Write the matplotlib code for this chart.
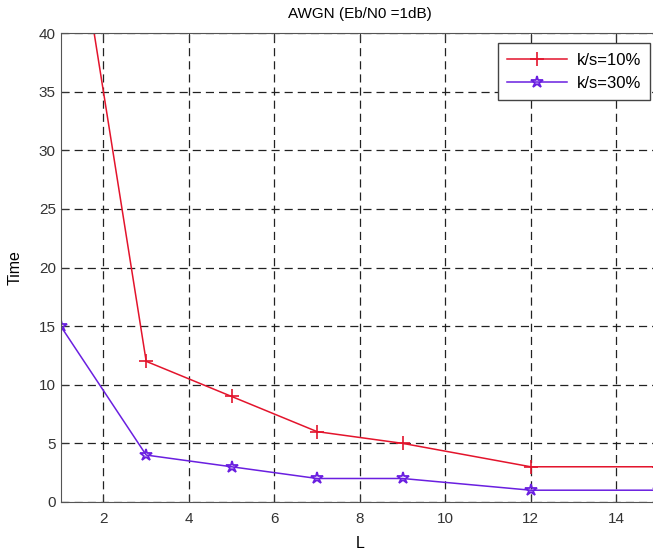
import matplotlib
matplotlib.use('Agg')
from matplotlib import pyplot as plt

plt.rcParams['font.family'] = ['Liberation Sans', 'DejaVu Sans']

L = [1, 3, 5, 7, 9, 12, 15]
time_10 = [58, 12, 9, 6, 5, 3, 3]
time_30 = [15, 4, 3, 2, 2, 1, 1]
xticks = [2, 4, 6, 8, 10, 12, 14]
yticks = [0, 5, 10, 15, 20, 25, 30, 35, 40]

fig = plt.figure(figsize=(6.53, 5.54), dpi=100)
ax = fig.add_axes([0.093, 0.094, 0.916, 0.846])

ax.plot(L, time_10, color='#e3142c', marker='+', ms=10, mew=1.2, lw=1.1, label='k/s=10%')
ax.plot(L, time_30, color='#6a1fe0', marker='*', ms=9, mfc='none', mew=1.3, lw=1.1, label='k/s=30%')

ax.set_xlim(1, 15)
ax.set_ylim(0, 40)
ax.set_xticks(xticks)
ax.set_yticks(yticks)
ax.tick_params(direction='in', length=5, labelsize=11, colors='#333333', top=True, right=True)
ax.tick_params(axis='x', pad=7)
ax.grid(True, color='#222222', linestyle=(0, (6.5, 4)), lw=0.9)
for s in ax.spines.values():
    s.set_color('#555555')

ax.set_xlabel('L', fontsize=11.5, labelpad=7.5)
ax.set_ylabel('Time', fontsize=11.5, labelpad=12)
ax.set_title('AWGN (Eb/N0 =1dB)', fontsize=11, pad=11)

leg = ax.legend(loc='upper right', fontsize=12, fancybox=False, framealpha=1,
                edgecolor='#444444', handlelength=3.6, borderpad=0.55, labelspacing=0.5,
                handletextpad=0.6, bbox_to_anchor=(0.9995, 0.996))
leg.get_frame().set_linewidth(1.0)

fig.savefig('out.png', dpi=100, facecolor='white')
